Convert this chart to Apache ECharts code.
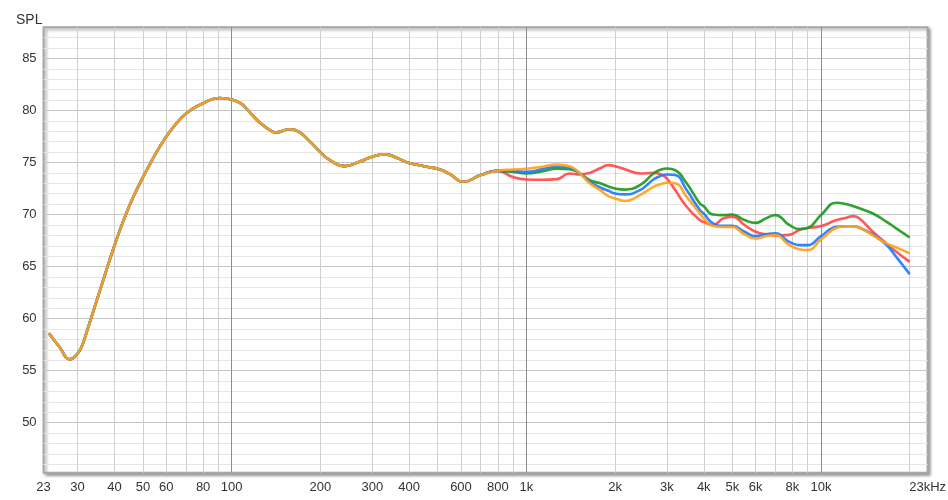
<!DOCTYPE html>
<html>
<head>
<meta charset="utf-8">
<title>SPL</title>
<script src="https://cdn.jsdelivr.net/npm/echarts@6/dist/echarts.min.js"></script>
<style>
  html, body { margin: 0; padding: 0; background: #ffffff; }
  #chart { width: 948px; height: 500px; }
</style>
</head>
<body>
<div id="chart"></div>
<script>
// Shared response below 1 kHz (Hz, dB SPL)
const lowFreq = [24, 26, 28.3, 30, 31.1, 32.2, 34.4, 36.7, 38.6, 41.8, 45.2, 48.8, 52.8, 57.1, 61.8, 66.8, 72.2, 80, 91, 100, 107, 112, 124, 137, 142, 157, 165, 184.5, 200, 216, 242, 270, 300, 331, 370, 400, 459, 509, 550, 611, 700, 800];
const lowSpl = [58.6, 57.3, 56.1, 56.65, 57.45, 58.7, 61.25, 63.75, 65.7, 68.55, 71.0, 73.0, 74.85, 76.55, 78.0, 79.15, 80.0, 80.7, 81.2, 81.05, 80.7, 80.2, 78.9, 78.0, 77.9, 78.2, 78.1, 77.0, 76.0, 75.2, 74.65, 75.05, 75.55, 75.78, 75.35, 74.95, 74.6, 74.33, 73.88, 73.15, 73.8, 74.2];

// Upper band where the four measurements diverge
const highFreq = [900, 1000, 1130, 1270, 1400, 1520, 1640, 1780, 1900, 2000, 2160, 2430, 2700, 2850, 3000, 3200, 3500, 3880, 4000, 4300, 4660, 5000, 5500, 6000, 6500, 7000, 7800, 8500, 9000, 10000, 11300, 12200, 12900, 13500, 15000, 16700, 18000, 20000];
const redHigh = [73.6, 73.37, 73.35, 73.4, 73.95, 73.85, 74.0, 74.45, 74.75, 74.65, 74.35, 73.95, 74.0, 73.9, 73.45, 72.35, 70.75, 69.47, 69.3, 69.0, 69.63, 69.8, 69.0, 68.35, 68.1, 68.0, 68.05, 68.57, 68.7, 68.9, 69.47, 69.7, 69.85, 69.63, 68.35, 67.2, 66.42, 65.46];
const greenHigh = [74.1, 73.95, 74.15, 74.4, 74.35, 73.95, 73.3, 73.0, 72.7, 72.5, 72.4, 72.83, 73.95, 74.3, 74.43, 74.27, 73.0, 71.07, 70.8, 70.0, 69.95, 70.0, 69.47, 69.2, 69.63, 69.95, 69.0, 68.6, 68.7, 69.95, 71.13, 71.0, 70.8, 70.6, 70.1, 69.3, 68.67, 67.8];
const blueHigh = [74.2, 74.1, 74.35, 74.6, 74.5, 73.95, 73.15, 72.6, 72.28, 72.03, 71.94, 72.35, 73.37, 73.7, 73.85, 73.8, 72.35, 70.43, 70.1, 69.15, 68.92, 68.92, 68.35, 67.93, 68.1, 68.2, 67.38, 67.06, 67.06, 67.93, 68.82, 68.88, 68.88, 68.73, 68.1, 67.06, 65.94, 64.28];
const orangeHigh = [74.33, 74.4, 74.6, 74.8, 74.65, 73.95, 73.0, 72.35, 71.77, 71.55, 71.3, 71.87, 72.66, 72.9, 73.05, 73.0, 71.7, 70.1, 69.63, 68.9, 68.8, 68.8, 68.1, 67.7, 67.93, 68.03, 67.06, 66.65, 66.58, 67.6, 68.73, 68.88, 68.88, 68.73, 68.0, 67.2, 66.85, 66.27];

// Axis ticks
const freqLabels = [23, 30, 40, 50, 60, 80, 100, 200, 300, 400, 600, 800, 1000, 2000, 3000, 4000, 5000, 6000, 8000, 10000, 23000];
const freqMinorLines = [30, 40, 50, 60, 70, 80, 90, 200, 300, 400, 500, 600, 700, 800, 900, 2000, 3000, 4000, 5000, 6000, 7000, 8000, 9000, 20000];
const freqDecadeLines = [100, 1000, 10000];
const splLabels = [50, 55, 60, 65, 70, 75, 80, 85];
const splMinorLines = [46, 47, 48, 49, 51, 52, 53, 54, 56, 57, 58, 59, 61, 62, 63, 64, 66, 67, 68, 69, 71, 72, 73, 74, 76, 77, 78, 79, 81, 82, 83, 84, 86, 87];

const X_MIN = 23, X_MAX = 23000, Y_MIN = 45.2, Y_MAX = 88;

function pairs(freqs, values) {
  return freqs.map((f, i) => [f, values[i]]);
}
function curve(high) {
  return pairs(lowFreq, lowSpl).concat(pairs(highFreq, high));
}
function freqText(v) {
  const f = Math.round(v);
  if (f === 23000) return '23kHz';
  if (f >= 1000) return (f / 1000) + 'k';
  return String(f);
}

const labelFont = { fontFamily: '"Liberation Sans", Arial, sans-serif', fontSize: 13, color: '#333333' };

const chart = echarts.init(document.getElementById('chart'), null, { renderer: 'canvas' });

const baseX = {
  type: 'log', logBase: 10, min: X_MIN, max: X_MAX, gridIndex: 0,
  position: 'bottom', axisLine: { show: false }
};
const baseY = {
  type: 'value', min: Y_MIN, max: Y_MAX, gridIndex: 0,
  position: 'left', axisLine: { show: false }
};

function line(name, color, high) {
  return {
    name, type: 'line', xAxisIndex: 0, yAxisIndex: 0,
    data: curve(high), smooth: 0.5, showSymbol: false, symbol: 'none',
    lineStyle: { color, width: 2.6, opacity: 0.92 },
    itemStyle: { color }, z: 5
  };
}

chart.setOption({
  animation: false,
  backgroundColor: '#ffffff',
  title: {
    text: 'SPL', left: 11, top: 8,
    textStyle: { fontFamily: labelFont.fontFamily, fontSize: 14, fontWeight: 'normal', color: '#333333' }
  },
  grid: {
    left: 43.6, right: 20.4, top: 27.2, bottom: 27.3,
    outerBoundsMode: 'none',
    show: true, backgroundColor: '#ffffff',
    borderColor: '#a6a6a6', borderWidth: 2,
    shadowColor: 'rgba(0,0,0,0.35)', shadowBlur: 3, shadowOffsetX: 2, shadowOffsetY: 2
  },
  xAxis: [
    Object.assign({}, baseX, {
      axisTick: { show: false, customValues: freqMinorLines },
      axisLabel: Object.assign({ customValues: freqLabels, margin: 8, formatter: freqText, hideOverlap: false, showMinLabel: true, showMaxLabel: true }, labelFont),
      splitLine: { show: true, lineStyle: { color: '#cfcfcf', width: 1 } }
    }),
    Object.assign({}, baseX, {
      axisTick: { show: false, customValues: freqDecadeLines },
      axisLabel: { show: false },
      splitLine: { show: true, lineStyle: { color: '#8f8f8f', width: 1 } }
    })
  ],
  yAxis: [
    Object.assign({}, baseY, {
      axisTick: { show: false, customValues: splLabels },
      axisLabel: Object.assign({ customValues: splLabels, margin: 7 }, labelFont),
      splitLine: { show: true, lineStyle: { color: '#c6c6c6', width: 1 } }
    }),
    Object.assign({}, baseY, {
      axisTick: { show: false, customValues: splMinorLines },
      axisLabel: { show: false },
      splitLine: { show: true, lineStyle: { color: '#e6e6e6', width: 1 } }
    })
  ],
  series: [
    line('Red', '#ff4a4a', redHigh),
    line('Green', '#1f9a1f', greenHigh),
    line('Blue', '#1f7cff', blueHigh),
    line('Orange', '#ffa21c', orangeHigh)
  ]
});
</script>
</body>
</html>
